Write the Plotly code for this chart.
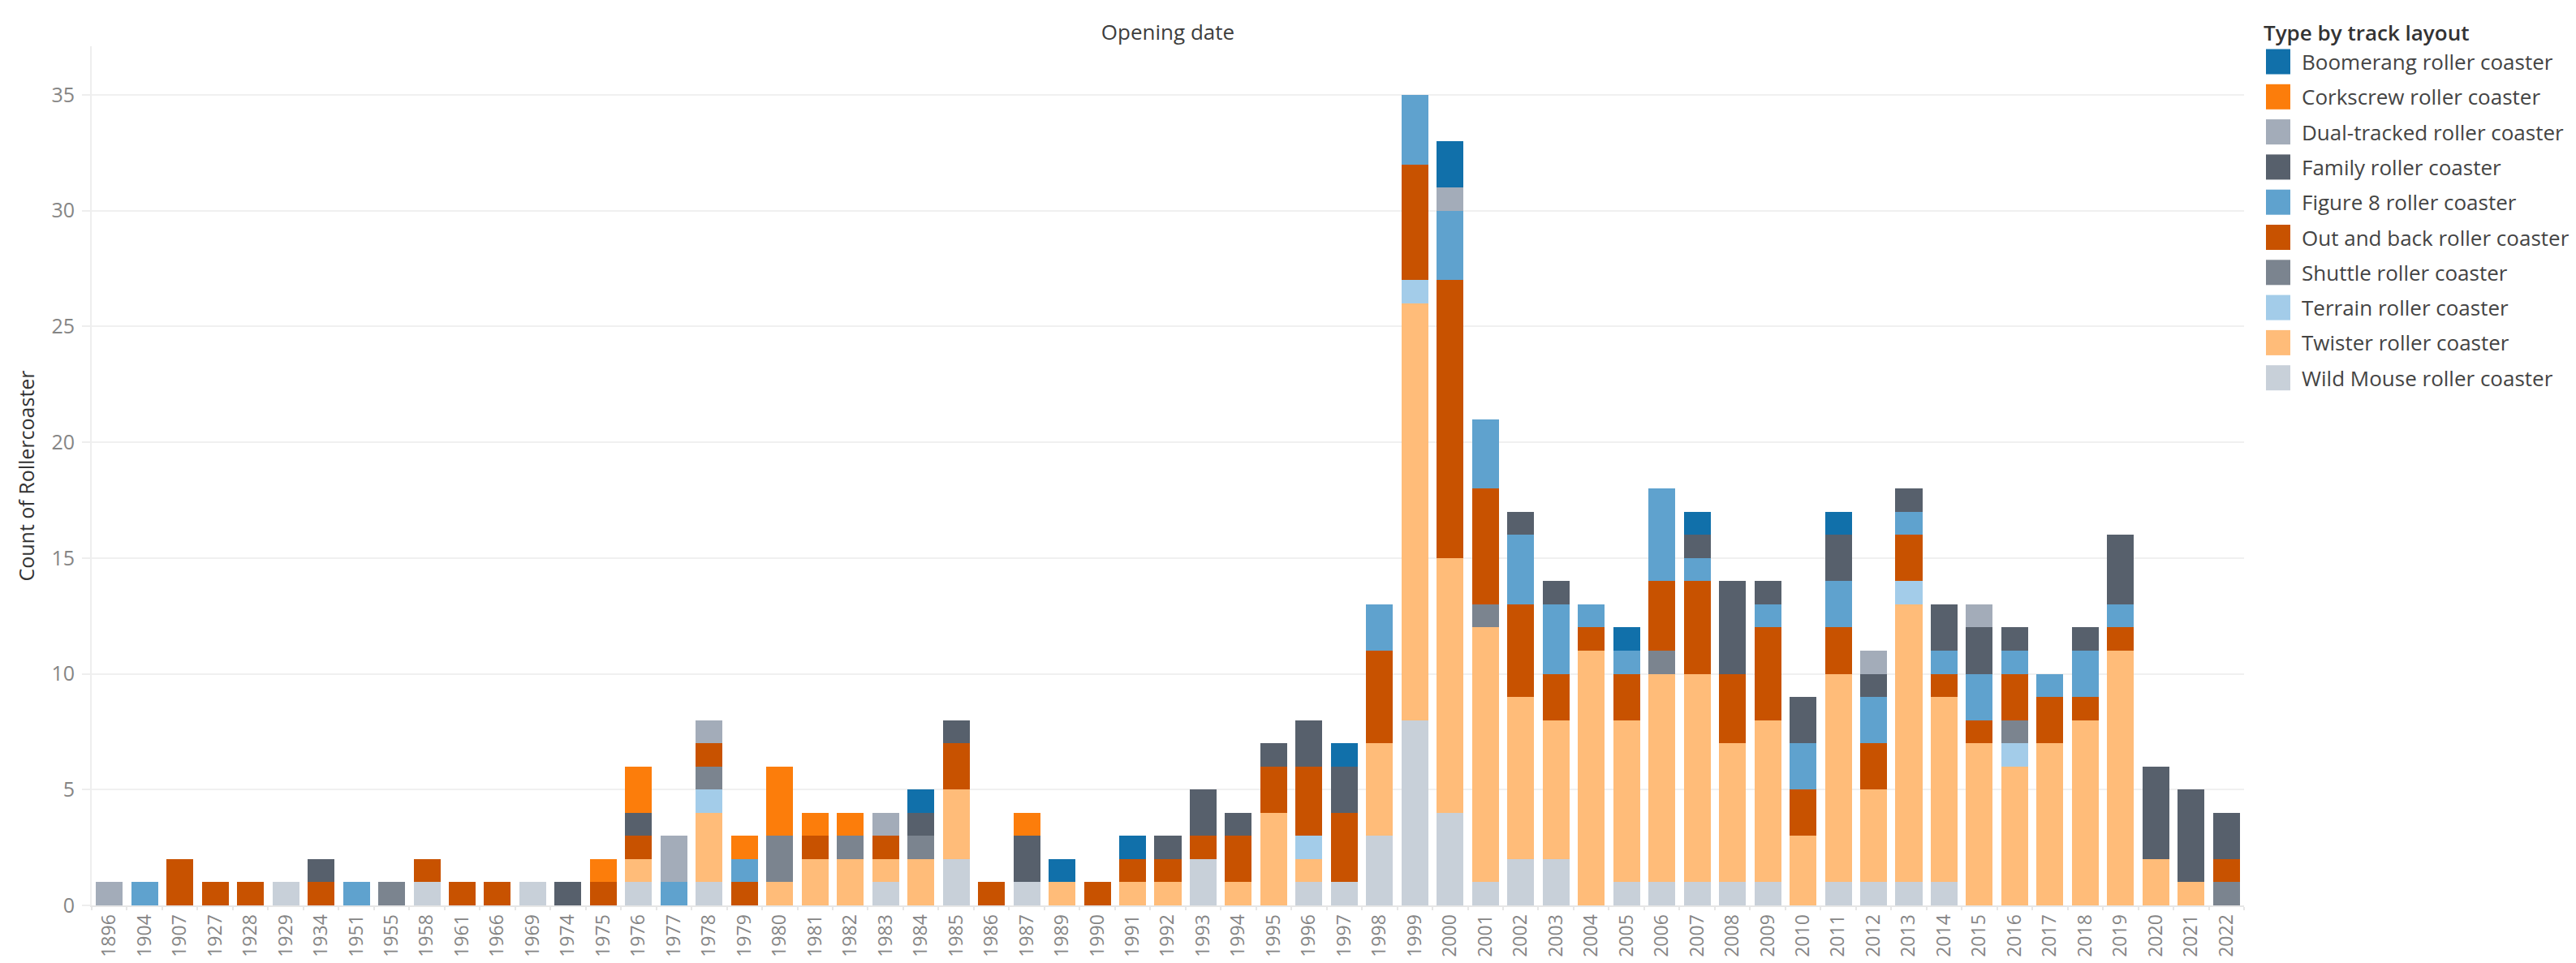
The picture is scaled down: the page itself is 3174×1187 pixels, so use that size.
import plotly.graph_objects as go

# ---------------- data ----------------
YEARS = ["1896", "1904", "1907", "1927", "1928", "1929", "1934", "1951", "1955", "1958",
         "1961", "1966", "1969", "1974", "1975", "1976", "1977", "1978", "1979", "1980",
         "1981", "1982", "1983", "1984", "1985", "1986", "1987", "1989", "1990", "1991",
         "1992", "1993", "1994", "1995", "1996", "1997", "1998", "1999", "2000", "2001",
         "2002", "2003", "2004", "2005", "2006", "2007", "2008", "2009", "2010", "2011",
         "2012", "2013", "2014", "2015", "2016", "2017", "2018", "2019", "2020", "2021",
         "2022"]

BOOMERANG = [0, 0, 0, 0, 0, 0, 0, 0, 0, 0,
             0, 0, 0, 0, 0, 0, 0, 0, 0, 0,
             0, 0, 0, 1, 0, 0, 0, 1, 0, 1,
             0, 0, 0, 0, 0, 1, 0, 0, 2, 0,
             0, 0, 0, 1, 0, 1, 0, 0, 0, 1,
             0, 0, 0, 0, 0, 0, 0, 0, 0, 0,
             0]
CORKSCREW = [0, 0, 0, 0, 0, 0, 0, 0, 0, 0,
             0, 0, 0, 0, 1, 2, 0, 0, 1, 3,
             1, 1, 0, 0, 0, 0, 1, 0, 0, 0,
             0, 0, 0, 0, 0, 0, 0, 0, 0, 0,
             0, 0, 0, 0, 0, 0, 0, 0, 0, 0,
             0, 0, 0, 0, 0, 0, 0, 0, 0, 0,
             0]
DUAL_TRACKED = [1, 0, 0, 0, 0, 0, 0, 0, 0, 0,
                0, 0, 0, 0, 0, 0, 2, 1, 0, 0,
                0, 0, 1, 0, 0, 0, 0, 0, 0, 0,
                0, 0, 0, 0, 0, 0, 0, 0, 1, 0,
                0, 0, 0, 0, 0, 0, 0, 0, 0, 0,
                1, 0, 0, 1, 0, 0, 0, 0, 0, 0,
                0]
FAMILY = [0, 0, 0, 0, 0, 0, 1, 0, 0, 0,
          0, 0, 0, 1, 0, 1, 0, 0, 0, 0,
          0, 0, 0, 1, 1, 0, 2, 0, 0, 0,
          1, 2, 1, 1, 2, 2, 0, 0, 0, 0,
          1, 1, 0, 0, 0, 1, 4, 1, 2, 2,
          1, 1, 2, 2, 1, 0, 1, 3, 4, 4,
          2]
FIGURE_8 = [0, 1, 0, 0, 0, 0, 0, 1, 0, 0,
            0, 0, 0, 0, 0, 0, 1, 0, 1, 0,
            0, 0, 0, 0, 0, 0, 0, 0, 0, 0,
            0, 0, 0, 0, 0, 0, 2, 3, 3, 3,
            3, 3, 1, 1, 4, 1, 0, 1, 2, 2,
            2, 1, 1, 2, 1, 1, 2, 1, 0, 0,
            0]
OUT_AND_BACK = [0, 0, 2, 1, 1, 0, 1, 0, 0, 1,
                1, 1, 0, 0, 1, 1, 0, 1, 1, 0,
                1, 0, 1, 0, 2, 1, 0, 0, 1, 1,
                1, 1, 2, 2, 3, 3, 4, 5, 12, 5,
                4, 2, 1, 2, 3, 4, 3, 4, 2, 2,
                2, 2, 1, 1, 2, 2, 1, 1, 0, 0,
                1]
SHUTTLE = [0, 0, 0, 0, 0, 0, 0, 0, 1, 0,
           0, 0, 0, 0, 0, 0, 0, 1, 0, 2,
           0, 1, 0, 1, 0, 0, 0, 0, 0, 0,
           0, 0, 0, 0, 0, 0, 0, 0, 0, 1,
           0, 0, 0, 0, 1, 0, 0, 0, 0, 0,
           0, 0, 0, 0, 1, 0, 0, 0, 0, 0,
           1]
TERRAIN = [0, 0, 0, 0, 0, 0, 0, 0, 0, 0,
           0, 0, 0, 0, 0, 0, 0, 1, 0, 0,
           0, 0, 0, 0, 0, 0, 0, 0, 0, 0,
           0, 0, 0, 0, 1, 0, 0, 1, 0, 0,
           0, 0, 0, 0, 0, 0, 0, 0, 0, 0,
           0, 1, 0, 0, 1, 0, 0, 0, 0, 0,
           0]
TWISTER = [0, 0, 0, 0, 0, 0, 0, 0, 0, 0,
           0, 0, 0, 0, 0, 1, 0, 3, 0, 1,
           2, 2, 1, 2, 3, 0, 0, 1, 0, 1,
           1, 0, 1, 4, 1, 0, 4, 18, 11, 11,
           7, 6, 11, 7, 9, 9, 6, 7, 3, 9,
           4, 12, 8, 7, 6, 7, 8, 11, 2, 1,
           0]
WILD_MOUSE = [0, 0, 0, 0, 0, 1, 0, 0, 0, 1,
              0, 0, 1, 0, 0, 1, 0, 1, 0, 0,
              0, 0, 1, 0, 2, 0, 1, 0, 0, 0,
              0, 2, 0, 0, 1, 1, 3, 8, 4, 1,
              2, 2, 0, 1, 1, 1, 1, 1, 0, 1,
              1, 1, 1, 0, 0, 0, 0, 0, 0, 0,
              0]

# legend order (top to bottom)
SERIES_NAMES = ["Boomerang roller coaster", "Corkscrew roller coaster",
                "Dual-tracked roller coaster", "Family roller coaster",
                "Figure 8 roller coaster", "Out and back roller coaster",
                "Shuttle roller coaster", "Terrain roller coaster",
                "Twister roller coaster", "Wild Mouse roller coaster"]
SERIES_VALUES = [BOOMERANG, CORKSCREW, DUAL_TRACKED, FAMILY, FIGURE_8,
                 OUT_AND_BACK, SHUTTLE, TERRAIN, TWISTER, WILD_MOUSE]
SERIES_COLORS = ["#1170aa", "#fc7d0b", "#a3acb9", "#57606c", "#5fa2ce",
                 "#c85200", "#7b848f", "#a3cce9", "#ffbc79", "#c8d0d9"]

TITLE = "Opening date"
Y_TITLE = "Count of Rollercoaster"
LEGEND_TITLE = "Type by track layout"

# ---------------- layout constants (figure pixels) ----------------
FONT = "Open Sans"
W, H = 3158, 1171
L, R, T, B = 105, 401, 49, 63
PW = W - L - R
PH = H - T - B


def px_x(x):
    return (x - L) / PW


def px_y(y):
    return 1 - (y - T) / PH


fig = go.Figure()

# stack from bottom: reversed legend order
for name, vals, col in reversed(list(zip(SERIES_NAMES, SERIES_VALUES, SERIES_COLORS))):
    fig.add_trace(go.Bar(
        x=YEARS, y=vals, name=name,
        marker=dict(color=col, line=dict(width=0)),
        showlegend=False,
        hovertemplate="%{x}<br>" + name + ": %{y}<extra></extra>",
    ))

fig.update_layout(
    width=W, height=H,
    margin=dict(l=L, r=R, t=T, b=B, autoexpand=False),
    barmode="stack",
    bargap=0.24,
    paper_bgcolor="white",
    plot_bgcolor="white",
    font=dict(family=FONT, size=26, color="#555555"),
    title=dict(text=TITLE, x=0.5, xref="paper", xanchor="center",
               y=1 - 32 / H, yref="container", yanchor="middle",
               font=dict(family=FONT, size=26, color="#3d3d3d")),
    showlegend=False,
)

fig.update_xaxes(
    type="category",
    categoryorder="array", categoryarray=YEARS,
    tickangle=-90,
    tickfont=dict(family=FONT, size=23, color="#858585"),
    ticks="outside", tickson="boundaries", ticklen=4, tickcolor="#e6e6e6", tickwidth=2,
    ticklabelstandoff=0,
    showline=True, linecolor="#e6e6e6", linewidth=2,
    showgrid=False, zeroline=False,
    automargin=False,
)

fig.update_yaxes(
    range=[0, 37.1],
    tick0=0, dtick=5,
    tickfont=dict(family=FONT, size=25, color="#858585"),
    ticks="outside", ticklen=10, tickcolor="#eeeeee", tickwidth=2,
    ticklabelstandoff=4,
    showline=True, linecolor="#eeeeee", linewidth=2,
    showgrid=True, gridcolor="#f0f0f0", gridwidth=2,
    zeroline=False,
    title=dict(text=Y_TITLE, standoff=14,
               font=dict(family=FONT, size=25, color="#333333")),
    automargin=False,
)

# ---------------- manual legend (large swatches like the original) ----------------
LEG_X = 2784
LEG_TEXT_X = 2826
LEG_Y0 = 68
LEG_STEP = 43.3
SW_W, SW_H = 30, 31

fig.add_annotation(
    x=px_x(2779), y=px_y(32), xref="paper", yref="paper",
    xanchor="left", yanchor="middle", showarrow=False,
    text=LEGEND_TITLE,
    font=dict(family=FONT, size=26, color="#333333", weight=600),
)
for i, (name, col) in enumerate(zip(SERIES_NAMES, SERIES_COLORS)):
    cy = LEG_Y0 + i * LEG_STEP
    fig.add_shape(
        type="rect", xref="paper", yref="paper",
        x0=px_x(LEG_X), x1=px_x(LEG_X + SW_W),
        y0=px_y(cy + SW_H / 2), y1=px_y(cy - SW_H / 2),
        fillcolor=col, line=dict(width=0),
    )
    fig.add_annotation(
        x=px_x(LEG_TEXT_X), y=px_y(cy), xref="paper", yref="paper",
        xanchor="left", yanchor="middle", showarrow=False,
        text=name,
        font=dict(family=FONT, size=26, color="#444444"),
    )

fig.write_html("out.html")
